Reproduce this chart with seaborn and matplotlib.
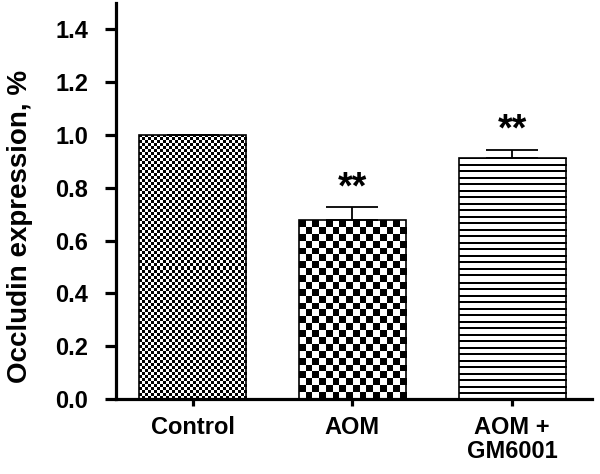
import numpy as np
import pandas as pd
import matplotlib
matplotlib.use("Agg")
import matplotlib.pyplot as plt
import seaborn as sns

# values
groups = ["Control", "AOM", "AOM +\nGM6001"]
means = [1.0, 0.677, 0.913]
sem = [0.0, 0.05, 0.031]
stars = ["", "**", "**"]

# fill pattern per bar: (kind, cell size in px)
patterns = [("checker", 3.0), ("checker", 6.8), ("stripes", 6.5)]


def fill_pattern(ax, patch, kind, cell):
    """Fill a bar patch with a checkerboard or stripe image clipped to it."""
    x0, y0 = patch.get_x(), patch.get_y()
    x1, y1 = x0 + patch.get_width(), y0 + patch.get_height()
    p0 = ax.transData.transform((x0, y0))
    p1 = ax.transData.transform((x1, y1))
    wpx, hpx = abs(p1[0] - p0[0]), abs(p1[1] - p0[1])
    if kind == "checker":
        nc = max(1, int(round(wpx / cell)))
        nr = max(1, int(round(hpx / cell)))
        img = (np.add.outer(np.arange(nr), np.arange(nc)) % 2).astype(float)
    else:
        nr = int(round(hpx))
        rows = np.arange(nr)
        line = ((rows % cell) < 1.6).astype(float)
        img = np.repeat(1 - line[:, None], 4, axis=1)
    im = ax.imshow(img, cmap="gray", vmin=0, vmax=1, extent=(x0, x1, y0, y1),
                   origin="upper", interpolation="nearest", aspect="auto", zorder=1)
    im.set_clip_path(patch)


sns.set_theme(style="white")
plt.rcParams["font.family"] = ["Liberation Sans", "DejaVu Sans"]
plt.rcParams["font.weight"] = "bold"

df = pd.DataFrame({"group": groups, "value": means})

fig = plt.figure(figsize=(6, 4.74), dpi=100)
ax = fig.add_axes([0.193, 0.158, 0.794, 0.836])

sns.barplot(data=df, x="group", y="value", color="white", edgecolor="black",
            linewidth=1.2, width=0.67, errorbar=None, ax=ax, zorder=2)

ax.set_xlim(-0.48, 2.5)
ax.set_ylim(0, 1.5)
ax.set_yticks(np.arange(0, 1.41, 0.2))
ax.set_yticklabels([f"{t:.1f}" for t in np.arange(0, 1.41, 0.2)])

for patch in ax.patches:
    patch.set_facecolor("none")
    patch.set_zorder(3)
for patch, (kind, cell) in zip(ax.patches, patterns):
    fill_pattern(ax, patch, kind, cell)

xpos = np.arange(len(groups))
ax.errorbar(xpos, means, yerr=[np.zeros(len(sem)), sem], fmt="none",
            ecolor="black", elinewidth=1.3, capsize=19, capthick=1.3, zorder=4)
for x, m, s, st in zip(xpos, means, sem, stars):
    if st:
        ax.text(x, m + s + 0.072, st, ha="center", va="center",
                fontsize=27, fontweight="bold", color="black")

for side in ["top", "right"]:
    ax.spines[side].set_visible(False)
for side in ["left", "bottom"]:
    ax.spines[side].set_linewidth(2.3)
    ax.spines[side].set_color("black")

ax.tick_params(axis="y", which="major", left=True, length=8, width=2.3,
               labelsize=17, pad=12, colors="black")
ax.tick_params(axis="x", which="major", bottom=True, length=5, width=2.3,
               labelsize=17, pad=7, colors="black")
for lab in ax.get_xticklabels() + ax.get_yticklabels():
    lab.set_fontweight("bold")
    lab.set_linespacing(1.05)

ax.set_xlabel("")
ax.set_ylabel("Occludin expression, %", fontsize=20, fontweight="bold",
              color="black")
ax.yaxis.set_label_coords(-0.174, 0.437)

fig.savefig("out.png", dpi=100, facecolor="white")
